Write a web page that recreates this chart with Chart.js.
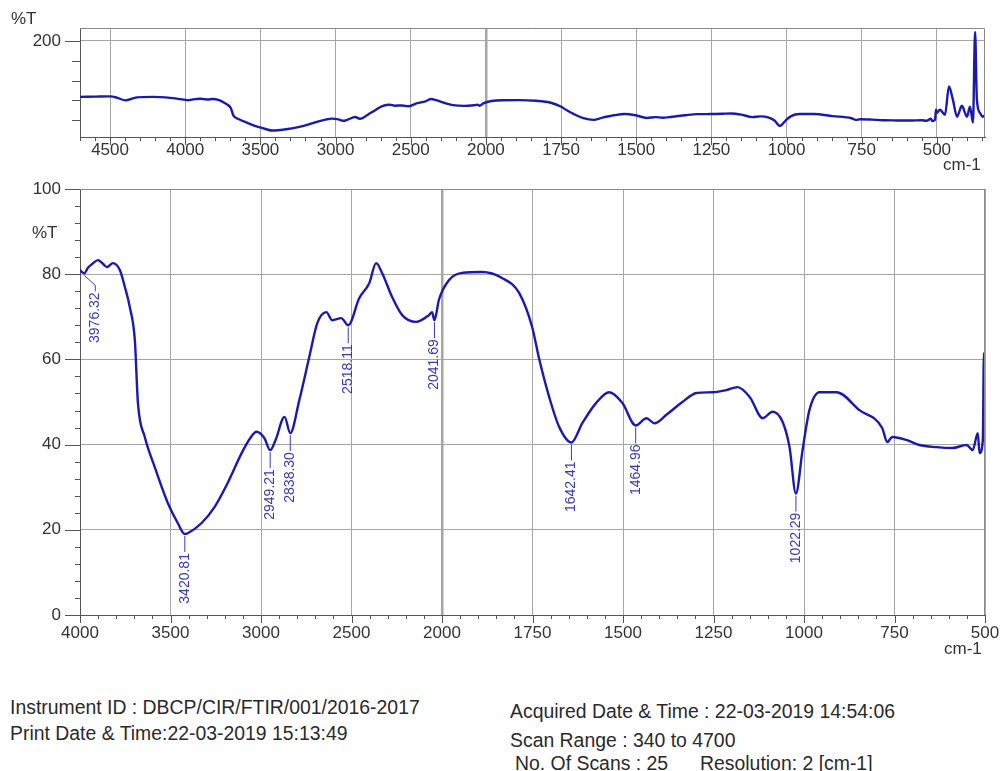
<!DOCTYPE html>
<html>
<head>
<meta charset="utf-8">
<script src="https://cdn.jsdelivr.net/npm/chart.js@4.4.1/dist/chart.umd.min.js"></script>
<style>
    body { margin: 0; background: #fff; width: 1003px; height: 771px; position: relative; overflow: hidden;
           font-family: "Liberation Sans", Arial, sans-serif; color: #222; }
    canvas { position: absolute; left: 0; }
    #topChart { top: 0; }
    #mainChart { top: 180px; }
    .t { position: absolute; font-size: 17px; white-space: nowrap; line-height: 18px; color: #333; }
    .n { font-size: 20px; line-height: 20px; color: #2a2a2a; transform: scaleX(0.97); transform-origin: 0 50%; }
</style>
</head>
<body>
<canvas id="topChart" width="1003" height="180"></canvas>
<canvas id="mainChart" width="1003" height="470"></canvas>

<div class="t" style="left:11px; top:10px;">%T</div>
<div class="t" style="left:943px; top:156px;">cm-1</div>
<div class="t" style="left:32px; top:224px;">%T</div>
<div class="t" style="left:944px; top:640px;">cm-1</div>

<div class="t n" style="left:10px; top:697px;">Instrument ID : DBCP/CIR/FTIR/001/2016-2017</div>
<div class="t n" style="left:10px; top:723px;">Print Date &amp; Time:22-03-2019 15:13:49</div>
<div class="t n" style="left:510px; top:701px;">Acquired Date &amp; Time : 22-03-2019 14:54:06</div>
<div class="t n" style="left:510px; top:730px;">Scan Range : 340 to 4700</div>
<div class="t n" style="left:515px; top:753px;">No. Of Scans : 25</div>
<div class="t n" style="left:700px; top:753px;">Resolution: 2 [cm-1]</div>

<script>
// spectrum (cm-1 / %T)
const WAVENUMBERS = [
    4700, 4600, 4500, 4450, 4400, 4322, 4215, 4100, 4000, 3989, 3976.32, 3956, 3930, 3901, 3875, 3851,
    3818, 3780, 3752, 3725, 3697, 3680, 3642, 3587, 3515, 3460, 3420.81, 3405, 3328, 3256, 3184, 3107,
    3060, 3025, 2981, 2949.21, 2920, 2870, 2838.30, 2788, 2733, 2689, 2639, 2606, 2557, 2518.11, 2457,
    2402, 2364, 2331, 2275, 2220, 2143, 2072, 2055, 2041.69, 2017, 1981, 1945, 1889, 1834, 1787, 1751,
    1731, 1704, 1676, 1642.41, 1612, 1574, 1538, 1502, 1464.96, 1435, 1413, 1380, 1336, 1297, 1253,
    1214, 1184, 1150, 1114, 1087, 1059, 1040, 1022.29, 1004, 985, 957, 910, 847, 784, 770, 756, 717,
    681, 634, 590, 551, 534, 520, 515, 506, 503, 500, 490, 473, 460, 447, 433, 417, 400, 390, 380,
    373, 367, 357, 347, 340,
];
const TRANSMITTANCE = [
    87, 87.5, 88, 85, 80, 86, 87, 85, 81, 80.5, 80.2, 81.5, 82.5, 83.3, 82.5, 81.7,
    82.6, 81, 77, 72.3, 64.5, 49.8, 41.8, 34.7, 26.3, 21.6, 19, 19.2, 21.6, 25.4, 31, 38,
    41.5, 43, 41.5, 38.7, 41, 46.5, 42.7, 50.5, 60.6, 68.5, 71.1, 69.2, 69.7, 68, 74.4,
    77.9, 82.6, 80.3, 74.6, 70.4, 68.8, 70.4, 71.1, 69.2, 74, 78.6, 80.3, 80.5, 79.1, 75.6, 67.6,
    59.9, 51.2, 44.1, 40.5, 45.1, 49.8, 52.3, 49.8, 44.5, 46.2, 45, 47, 50, 52.1, 52.3,
    52.8, 53.5, 51.2, 46.2, 47.7, 45.3, 39.4, 28.5, 38.7, 48.1, 52.3, 52.3, 48.1, 43.9, 40.6, 41.8, 41.1,
    39.9, 39.4, 39.2, 39.9, 38.7, 42.7, 38, 41, 61.5, 55, 61, 51, 108, 82, 47, 69, 47, 67, 35,
    218, 82, 55, 47, 50,
];

const PEAK_WAVENUMBERS = [3976.32, 3420.81, 2949.21, 2838.30, 2518.11, 2041.69, 1642.41, 1464.96, 1022.29];
const PEAK_VALUES = [80.2, 19, 38.7, 42.7, 68, 69.2, 40.5, 44.5, 28.5];

const MAIN_X_LABELS = [4000, 3500, 3000, 2500, 2000, 1750, 1500, 1250, 1000, 750, 500];
const TOP_X_LABELS = [4500, 4000, 3500, 3000, 2500, 2000, 1750, 1500, 1250, 1000, 750, 500];
const MAIN_Y_LABELS = [0, 20, 40, 60, 80, 100];
const TOP_Y_LABELS = [200];

// the printout halves the scale above 2000 cm-1
const toU = w => (w > 2000 ? 2000 + (w - 2000) / 2 : w);
const toW = u => (u > 2000 ? 2000 + (u - 2000) * 2 : u);
const near = (list, v) => list.some(l => Math.abs(l - v) < 0.01);

Chart.defaults.font.family = '"Liberation Sans", Arial, sans-serif';
Chart.defaults.font.size = 17;
Chart.defaults.color = '#333';

const GRID = '#a6a6a6';
const AXIS = '#555';
const LINE = '#1a1aac';

const frameAndTicks = {
    id: 'frameAndTicks',
    afterDraw(chart, args, opts) {
        const ctx = chart.ctx;
        const a = chart.chartArea;
        const xs = chart.scales.x;
        const ys = chart.scales.y;
        ctx.save();
        ctx.lineWidth = 1;
        ctx.strokeStyle = '#8a8a8a';
        ctx.beginPath();
        ctx.moveTo(a.left, a.top + 0.5);
        ctx.lineTo(a.right - 0.5, a.top + 0.5);
        ctx.lineTo(a.right - 0.5, a.bottom);
        ctx.stroke();
        ctx.strokeStyle = AXIS;
        xs.ticks.forEach(t => {
            const p = Math.round(xs.getPixelForValue(t.value)) + 0.5;
            const len = near(opts.xLabels, toW(t.value)) ? 8 : 4;
            ctx.beginPath();
            ctx.moveTo(p, a.bottom);
            ctx.lineTo(p, a.bottom + len);
            ctx.stroke();
        });
        ys.ticks.forEach(t => {
            const p = Math.round(ys.getPixelForValue(t.value)) + 0.5;
            const len = near(opts.yLabels, t.value) ? 15 : opts.yMinorLen;
            ctx.beginPath();
            ctx.moveTo(a.left - len, p);
            ctx.lineTo(a.left, p);
            ctx.stroke();
        });
        ctx.restore();
    },
};

const peakLabels = {
    id: 'peakLabels',
    afterDatasetsDraw(chart) {
        const ctx = chart.ctx;
        const a = chart.chartArea;
        const xs = chart.scales.x;
        const ys = chart.scales.y;
        ctx.save();
        ctx.strokeStyle = '#3a3ab0';
        ctx.fillStyle = '#3a3ab0';
        ctx.lineWidth = 1;
        ctx.font = '14px "Liberation Sans", Arial, sans-serif';
        PEAK_WAVENUMBERS.forEach((w, i) => {
            const px = xs.getPixelForValue(toU(w));
            const py = ys.getPixelForValue(PEAK_VALUES[i]);
            const lx = px - a.left < 10 ? px + 11 : px;
            const end = py + 18;
            ctx.beginPath();
            ctx.moveTo(px, py + 2);
            if (lx !== px) ctx.lineTo(lx, py + 12);
            ctx.lineTo(lx, end);
            ctx.stroke();
            ctx.save();
            ctx.translate(lx, end + 1);
            ctx.rotate(-Math.PI / 2);
            ctx.textAlign = 'right';
            ctx.textBaseline = 'middle';
            ctx.fillText(w.toFixed(2), 0, 0);
            ctx.restore();
        });
        ctx.restore();
    },
};

function createSpectrumChart(canvasId, cfg) {
    const ctx = document.getElementById(canvasId);
    if (!ctx) return null;
    const points = WAVENUMBERS.map((w, i) => ({ x: toU(w), y: TRANSMITTANCE[i] }));
    return new Chart(ctx, {
        type: 'line',
        data: {
            datasets: [{
                data: points,
                borderColor: LINE,
                borderWidth: 2.4,
                pointRadius: 0,
                cubicInterpolationMode: 'monotone',
                fill: false,
            }],
        },
        options: {
            responsive: false,
            animation: false,
            layout: { padding: { top: cfg.padTop, right: 18, left: 0, bottom: 0 } },
            plugins: {
                legend: { display: false },
                tooltip: { enabled: false },
                frameAndTicks: { xLabels: cfg.xLabels, yLabels: cfg.yLabels, yMinorLen: cfg.yMinorLen },
            },
            scales: {
                x: {
                    type: 'linear',
                    reverse: true,
                    min: cfg.xMin,
                    max: cfg.xMax,
                    afterBuildTicks: scale => {
                        const ticks = [];
                        for (let u = cfg.xFirst; u <= cfg.xMax + 0.01; u += 50) ticks.push({ value: u });
                        scale.ticks = ticks;
                    },
                    afterFit: scale => {
                        scale.height = cfg.xHeight;
                        scale.paddingLeft = 0;
                        scale.paddingRight = 0;
                    },
                    ticks: {
                        autoSkip: false,
                        maxRotation: 0,
                        padding: cfg.xPad,
                        color: '#333',
                        callback: v => (near(cfg.xLabels, toW(v)) ? String(toW(v)) : ''),
                    },
                    grid: {
                        drawTicks: false,
                        color: c => (c.tick && near(cfg.xLabels, toW(c.tick.value)) ? GRID : 'rgba(0,0,0,0)'),
                        lineWidth: c => (c.tick && c.tick.value === 2000 ? 2.5 : 1),
                    },
                    border: { color: AXIS, width: 1 },
                },
                y: {
                    min: cfg.yMin,
                    max: cfg.yMax,
                    afterBuildTicks: scale => { scale.ticks = cfg.yTicks.map(v => ({ value: v })); },
                    afterFit: scale => {
                        scale.width = 80;
                        scale.paddingTop = 0;
                        scale.paddingBottom = 0;
                    },
                    ticks: {
                        autoSkip: false,
                        padding: 19,
                        color: '#333',
                        callback: v => (near(cfg.yLabels, v) ? String(v) : ''),
                    },
                    grid: {
                        drawTicks: false,
                        color: c => (c.tick && near(cfg.yLabels, c.tick.value) ? GRID : 'rgba(0,0,0,0)'),
                    },
                    border: { color: AXIS, width: 1 },
                },
            },
        },
        plugins: cfg.extraPlugins,
    });
}

const mainYTicks = [];
for (let v = 0; v <= 100; v += 4) mainYTicks.push(v);

createSpectrumChart('topChart', {
    padTop: 28, xHeight: 43, xPad: 3,
    xMin: 340, xMax: toU(4700), xFirst: 350,
    yMin: 6, yMax: 226, yTicks: [40, 80, 120, 160, 200],
    xLabels: TOP_X_LABELS, yLabels: TOP_Y_LABELS, yMinorLen: 8,
    extraPlugins: [frameAndTicks],
});

createSpectrumChart('mainChart', {
    padTop: 9, xHeight: 35, xPad: 8,
    xMin: 500, xMax: toU(4000), xFirst: 500,
    yMin: 0, yMax: 100, yTicks: mainYTicks,
    xLabels: MAIN_X_LABELS, yLabels: MAIN_Y_LABELS, yMinorLen: 5,
    extraPlugins: [frameAndTicks, peakLabels],
});
</script>
</body>
</html>
